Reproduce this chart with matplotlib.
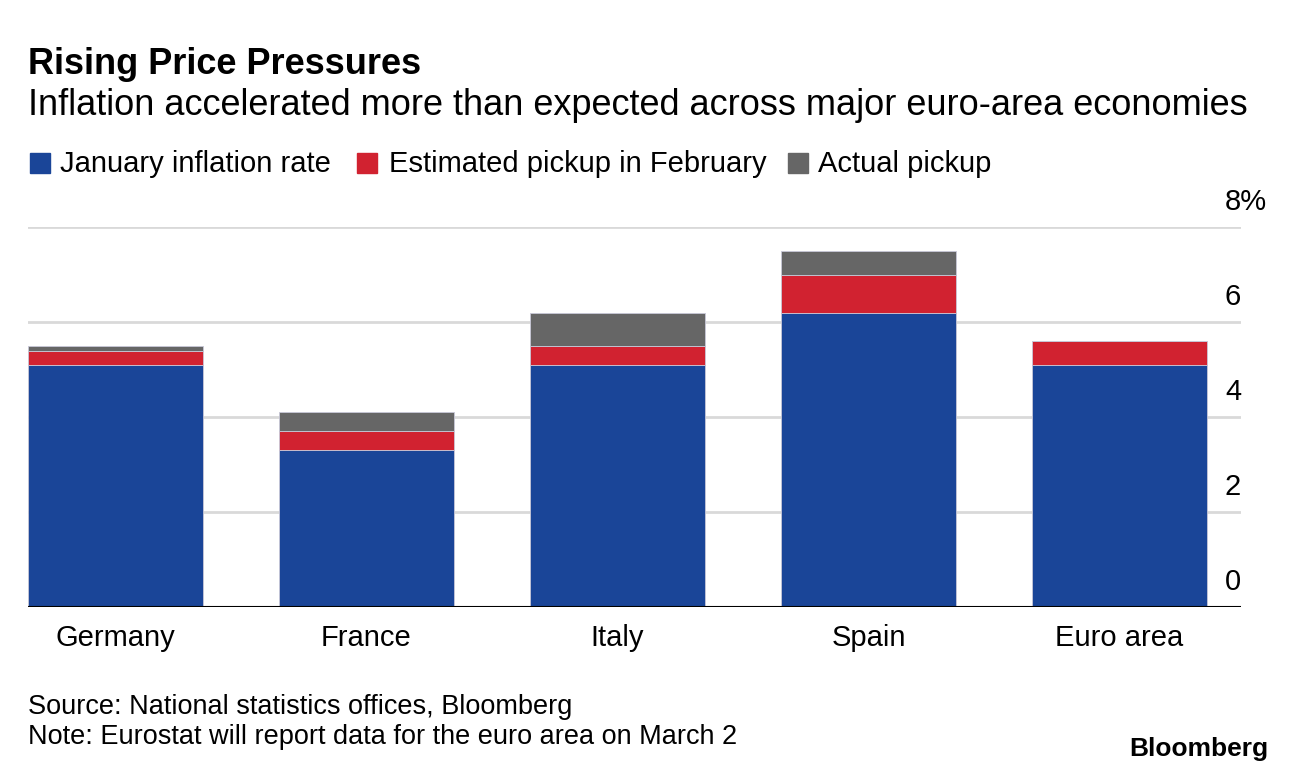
import matplotlib
matplotlib.use("Agg")
import matplotlib.pyplot as plt
from matplotlib.patches import Rectangle
import numpy as np

categories = ["Germany", "France", "Italy", "Spain", "Euro area"]
january = [5.1, 3.3, 5.1, 6.2, 5.1]
estimated_pickup = [0.3, 0.4, 0.4, 0.8, 0.5]
actual_pickup = [0.1, 0.4, 0.7, 0.5, 0.0]
yticks = [0, 2, 4, 6, 8]
ytick_labels = ["0", "2", "4", "6", "8%"]
series_names = ["January inflation rate", "Estimated pickup in February", "Actual pickup"]

BLUE = "#1a4598"
RED = "#d12230"
GRAY = "#666666"
colors = [BLUE, RED, GRAY]

plt.rcParams["font.family"] = ["Liberation Sans", "DejaVu Sans"]

W, H = 1296, 774
fig = plt.figure(figsize=(W / 100, H / 100), dpi=100)

def fx(px):
    return px / W

def fy(py):
    return 1 - py / H

ax = fig.add_axes([fx(28), fy(607), fx(1241) - fx(28), fy(227) - fy(607)])

x = np.arange(len(categories))
width = 0.697
jan = np.array(january)
est = np.array(estimated_pickup)
act = np.array(actual_pickup)
ax.bar(x, jan, width, color=BLUE, edgecolor="#c8c8d8", linewidth=0.6, zorder=3)
ax.bar(x, est, width, bottom=jan, color=RED, edgecolor="#c8c8d8", linewidth=0.6, zorder=3)
ax.bar(x, act, width, bottom=jan + est, color=GRAY, edgecolor="#c8c8d8", linewidth=0.6, zorder=3)

ax.set_xlim(-width / 2, 4.484)
ax.set_ylim(0, 8)

for s in ["top", "right", "left", "bottom"]:
    ax.spines[s].set_visible(False)
ax.axhline(0, color="black", linewidth=1.5, zorder=4)
for t in yticks[1:]:
    ax.axhline(t, color="#d9d9d9", linewidth=2, zorder=1)

ax.set_yticks([])
ax.set_xticks(x)
ax.set_xticklabels(categories, fontsize=21)
ax.tick_params(axis="x", length=0, pad=12)

for t, lab in zip(yticks, ytick_labels):
    ax.annotate(lab, xy=(1, t), xycoords=("axes fraction", "data"),
                xytext=(-16, 17), textcoords="offset pixels",
                ha="left", va="baseline", fontsize=21, color="black")

fig.text(fx(28), fy(74), "Rising Price Pressures", fontsize=26, fontweight="bold",
         ha="left", va="baseline")
fig.text(fx(28), fy(115), "Inflation accelerated more than expected across major euro-area economies",
         fontsize=26, ha="left", va="baseline")

leg_x = [30, 357, 788]
leg_tx = [60, 389, 818]
for px, tx, name, c in zip(leg_x, leg_tx, series_names, colors):
    fig.patches.append(Rectangle((fx(px), fy(173)), fx(20), fy(153) - fy(173),
                                 transform=fig.transFigure, color=c))
    fig.text(fx(tx), fy(172), name, fontsize=21, ha="left", va="baseline")

fig.text(fx(28), fy(714), "Source: National statistics offices, Bloomberg", fontsize=19.5,
         ha="left", va="baseline")
fig.text(fx(28), fy(744), "Note: Eurostat will report data for the euro area on March 2", fontsize=19.5,
         ha="left", va="baseline")
fig.text(fx(1268), fy(756), "Bloomberg", fontsize=19, fontweight="bold", ha="right", va="baseline")

fig.savefig("out.png", dpi=100, facecolor="white")
